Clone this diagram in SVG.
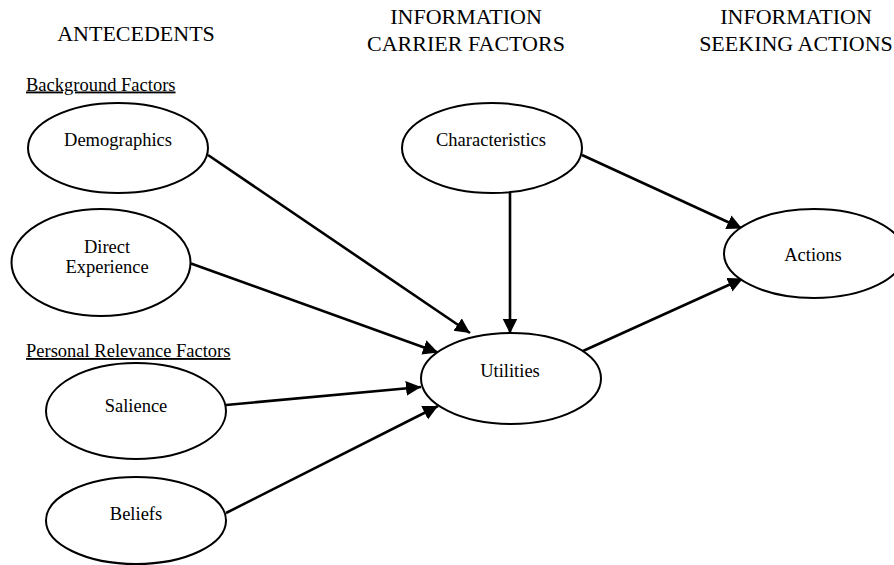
<svg xmlns="http://www.w3.org/2000/svg" width="894" height="565" viewBox="0 0 894 565">
<defs>
<style>
text{font-family:"Liberation Serif","Times New Roman",serif;fill:#000}
.h{font-size:22px;text-anchor:middle}
.n{font-size:18.5px;text-anchor:middle}
.s{font-size:18.5px;text-decoration:underline}
ellipse{fill:#fff;stroke:#000;stroke-width:2}
.c line{stroke:#000;stroke-width:2.6;marker-end:url(#ah)}
</style>
<marker id="ah" markerUnits="userSpaceOnUse" markerWidth="16" markerHeight="16" viewBox="0 0 16 16" refX="15" refY="7.5" orient="auto">
<path d="M0,0 L15,7.5 L0,15 z" fill="#000"/>
</marker>
</defs>
<rect width="894" height="565" fill="#fff"/>
<g id="headers">
<text class="h" x="136" y="41">ANTECEDENTS</text>
<text class="h" x="466" y="24">INFORMATION</text>
<text class="h" x="466" y="50.5">CARRIER FACTORS</text>
<text class="h" x="796" y="24">INFORMATION</text>
<text class="h" x="796" y="50.5">SEEKING ACTIONS</text>
<text class="s" x="26" y="90.5">Background Factors</text>
<text class="s" x="26" y="357">Personal Relevance Factors</text>
</g>
<g class="c" id="connectors">
<line x1="208" y1="155" x2="470" y2="333"/>
<line x1="191" y1="263.5" x2="438" y2="352.5"/>
<line x1="226" y1="405" x2="421" y2="387"/>
<line x1="226" y1="513" x2="438" y2="406"/>
<line x1="510" y1="193" x2="510" y2="333.5"/>
<line x1="582" y1="155" x2="742" y2="228.5"/>
<line x1="583" y1="351" x2="743" y2="278.5"/>
</g>
<g id="demographics"><ellipse cx="118" cy="148" rx="90" ry="45"/><text class="n" x="118" y="145.5">Demographics</text></g>
<g id="direct-experience"><ellipse cx="101" cy="262.5" rx="89.5" ry="53.5"/><text class="n" x="107" y="252.5">Direct</text><text class="n" x="107" y="272.5">Experience</text></g>
<g id="salience"><ellipse cx="136" cy="411" rx="90" ry="48"/><text class="n" x="136" y="412">Salience</text></g>
<g id="beliefs"><ellipse cx="136" cy="520.5" rx="90" ry="43.5"/><text class="n" x="136" y="520">Beliefs</text></g>
<g id="characteristics"><ellipse cx="492" cy="148" rx="90" ry="45"/><text class="n" x="491" y="145.5">Characteristics</text></g>
<g id="utilities"><ellipse cx="511" cy="378.5" rx="90" ry="45.5"/><text class="n" x="510" y="376.5">Utilities</text></g>
<g id="actions"><ellipse cx="814" cy="253.5" rx="90" ry="44.5"/><text class="n" x="813" y="261">Actions</text></g>
</svg>
